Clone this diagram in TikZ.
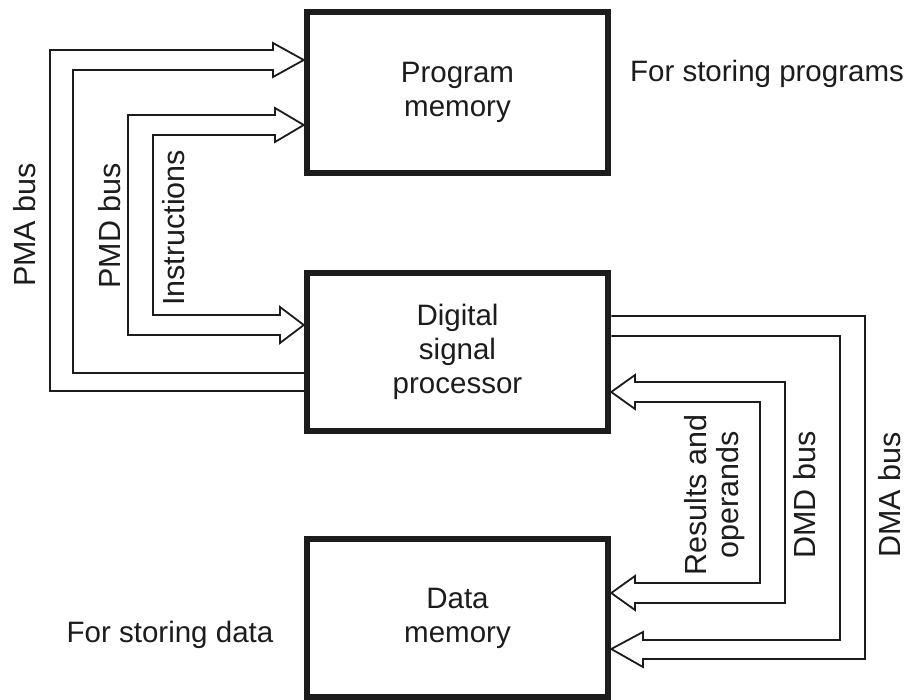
\documentclass[tikz,border=0pt]{standalone}
\usepackage{fontspec}
\setmainfont{Liberation Sans}
\usetikzlibrary{calc}
\definecolor{ink}{RGB}{28,28,28}
\begin{document}
\begin{tikzpicture}[x=1pt,y=-1pt,
  box/.style={draw=ink, line width=6.5pt, minimum width=301pt, minimum height=158pt,
    inner sep=0pt, align=center, font=\fontsize{29.5}{34}\selectfont, text=ink},
  bus/.style={draw=ink, line width=1.8pt, line join=miter},
  lbl/.style={font=\fontsize{29.5}{34}\selectfont, text=ink, inner sep=0pt},
  vlbl/.style={font=\fontsize{30.5}{32}\selectfont, text=ink, rotate=90, inner sep=0pt, align=center}]
\useasboundingbox (0,0) rectangle (911,700);
\fill[white] (0,0) rectangle (911,700);

% boxes
\node[box, minimum height=161pt] (pm) at (457.5,92.5) {Program\\memory};
\node[box] (dsp) at (457.5,352) {Digital\\signal\\processor};
\node[box] (dm) at (457.5,618) {Data\\memory};

% PMA bus
\draw[bus] ($(dsp.west)+(0,21)$) -- (73,373) -- (73,70) -- (273,70) -- (273,77)
  -- ($(pm.west)+(0,-32.5)$) -- (273,43) -- (273,50) -- (50,50) -- (50,391)
  -- ($(dsp.west)+(0,39)$);
% PMD bus / instructions
\draw[bus] (275,115) -- (128,115) -- (128,335) -- (280,335) -- (280,343)
  -- ($(dsp.west)+(0,-27)$) -- (280,307) -- (280,315) -- (153,315) -- (153,135)
  -- (275,135) -- (275,142) -- ($(pm.west)+(0,32.5)$) -- (275,108) -- cycle;
% results and operands
\draw[bus] (635,382) -- (785,382) -- (785,603) -- (635,603) -- (635,610)
  -- ($(dm.east)+(0,-25)$) -- (635,576) -- (635,583) -- (760,583) -- (760,402)
  -- (635,402) -- (635,409) -- ($(dsp.east)+(0,40)$) -- (635,375) -- cycle;
% DMA bus
\draw[bus] ($(dsp.east)+(0,-36)$) -- (865,316) -- (865,659) -- (643,659) -- (643,667)
  -- ($(dm.east)+(0,31)$) -- (643,632) -- (643,640) -- (840,640) -- (840,336)
  -- ($(dsp.east)+(0,-16)$);

% labels
\node[lbl, anchor=base] (fsp) at (767,82) {For storing programs};
\node[lbl, anchor=base] (fsd) at (170,642) {For storing data};
\node[vlbl, anchor=base] (pma) at (35,225) {PMA bus};
\node[vlbl, anchor=base] (pmd) at (120,226) {PMD bus};
\node[vlbl, anchor=base] (ins) at (184,228) {Instructions};
\node[vlbl] (rao) at (715,495) {Results and\\operands};
\node[vlbl, anchor=base] (dmd) at (815,495) {DMD bus};
\node[vlbl, anchor=base] (dma) at (900,495) {DMA bus};
\end{tikzpicture}
\end{document}
